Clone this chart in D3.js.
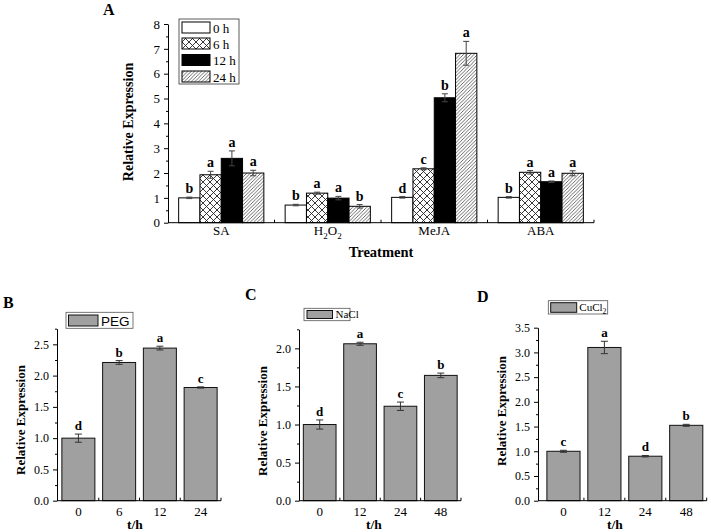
<!DOCTYPE html>
<html><head><meta charset="utf-8">
<script src="https://cdn.jsdelivr.net/npm/d3@7"></script>
<style>
body{margin:0;background:#fff}
svg{display:block}
</style>
</head><body><svg id="c" width="711" height="532" font-family="Liberation Serif, Times New Roman, serif"></svg>
<script>
// ---------- Panel A data ----------
const treatments = ["SA","H2O2","MeJA","ABA"];
const timesA = ["0 h","6 h","12 h","24 h"];
const valuesA = [[1.00,1.93,2.59,2.00],[0.71,1.19,0.99,0.66],[1.02,2.17,5.03,6.82],[1.02,2.03,1.65,1.99]];
const errorsA = [[0.03,0.14,0.30,0.11],[0.03,0.04,0.07,0.07],[0.03,0.04,0.16,0.48],[0.03,0.07,0.03,0.10]];
const lettersA = [["b","a","a","a"],["b","a","a","b"],["d","c","b","a"],["b","a","a","a"]];
const yTicksA = [0,1,2,3,4,5,6,7,8];
const yMinorA = [0.5,1.5,2.5,3.5,4.5,5.5,6.5,7.5];

// ---------- Panel B data (PEG) ----------
const timesB = ["0","6","12","24"];
const valuesB = [1.00,2.21,2.44,1.81];
const errorsB = [0.065,0.03,0.03,0.01];
const lettersB = ["d","b","a","c"];
const yTicksB = [0,0.5,1.0,1.5,2.0,2.5];
const yMinorB = [0.25,0.75,1.25,1.75,2.25,2.75];

// ---------- Panel C data (NaCl) ----------
const timesC = ["0","12","24","48"];
const valuesC = [1.00,2.06,1.24,1.645];
const errorsC = [0.06,0.02,0.055,0.03];
const lettersC = ["d","a","c","b"];
const yTicksC = [0,0.5,1.0,1.5,2.0];
const yMinorC = [0.25,0.75,1.25,1.75,2.25];

// ---------- Panel D data (CuCl2) ----------
const timesD = ["0","12","24","48"];
const valuesD = [1.00,3.10,0.90,1.525];
const errorsD = [0.02,0.125,0.015,0.02];
const lettersD = ["c","a","d","b"];
const yTicksD = [0,0.5,1.0,1.5,2.0,2.5,3.0,3.5];
const yMinorD = [0.25,0.75,1.25,1.75,2.25,2.75,3.25];

const SERIF = "Liberation Serif, Times New Roman, serif";
const svg = d3.select("#c");
const defs = svg.append("defs");

// patterns
const pCross = defs.append("pattern").attr("id","cross").attr("patternUnits","userSpaceOnUse")
  .attr("width",7).attr("height",7);
pCross.append("rect").attr("width",7).attr("height",7).attr("fill","#fff");
pCross.append("path").attr("d","M0,0L7,7M7,0L0,7").attr("stroke","#222").attr("stroke-width",0.9);
const pHatch = defs.append("pattern").attr("id","hatch").attr("patternUnits","userSpaceOnUse")
  .attr("width",3.5).attr("height",3.5);
pHatch.append("rect").attr("width",3.5).attr("height",3.5).attr("fill","#fff");
pHatch.append("path").attr("d","M-1,4.5L4.5,-1M-1,1L1,-1M2.5,4.5L4.5,2.5").attr("stroke","#444").attr("stroke-width",0.8);

const fillsA = ["#fff","url(#cross)","#000","url(#hatch)"];

function leftAxis(g, y, x0, majors, minors, fmt, fs){
  const ax = g.append("g").attr("transform",`translate(${x0},0)`)
    .call(d3.axisLeft(y).tickValues(majors).tickSize(4).tickSizeOuter(0).tickPadding(4).tickFormat(fmt));
  ax.attr("font-family",SERIF);
  ax.select(".domain").attr("stroke","#000");
  ax.selectAll(".tick line").attr("stroke","#000");
  ax.selectAll(".tick text").attr("font-family",SERIF).attr("font-size",fs).attr("fill","#000");
  const mn = g.append("g").attr("transform",`translate(${x0},0)`)
    .call(d3.axisLeft(y).tickValues(minors).tickSize(2).tickSizeOuter(0).tickFormat(""));
  mn.select(".domain").remove();
  mn.selectAll(".tick line").attr("stroke","#000");
}

function bottomLine(g, x, y0, xStart){
  const r = x.range();
  g.append("line").attr("x1",xStart).attr("x2",r[1]).attr("y1",y0).attr("y2",y0)
    .attr("stroke","#000").attr("stroke-width",1);
  const bounds = x.domain().map((d,i)=> r[0] + x.step()*(i+1));
  g.selectAll(null).data(bounds).join("line")
    .attr("x1",d=>d).attr("x2",d=>d).attr("y1",y0).attr("y2",y0-3)
    .attr("stroke","#000");
}

// ================= Panel A =================
{
  const g = svg.append("g");
  const y = d3.scaleLinear().domain([0,8]).range([222.7,24]);
  const x0 = d3.scaleBand().domain(treatments).range([168,594]).paddingInner(0.2).paddingOuter(0.1);
  const x1 = d3.scaleBand().domain(timesA).range([0,x0.bandwidth()]);
  const data = [];
  treatments.forEach((t,i)=>timesA.forEach((h,j)=>data.push({t,h,j,v:valuesA[i][j],e:errorsA[i][j],l:lettersA[i][j]})));
  g.selectAll("rect.bar").data(data).join("rect").attr("class","bar")
    .attr("x",d=>x0(d.t)+x1(d.h)).attr("width",x1.bandwidth())
    .attr("y",d=>y(d.v)).attr("height",d=>y(0)-y(d.v))
    .attr("fill",d=>fillsA[d.j]).attr("stroke","#000").attr("stroke-width",1);
  const cx = d=>x0(d.t)+x1(d.h)+x1.bandwidth()/2;
  g.selectAll("line.eb").data(data).join("line").attr("class","eb")
    .attr("x1",cx).attr("x2",cx).attr("y1",d=>y(d.v+d.e)).attr("y2",d=>y(d.v-d.e))
    .attr("stroke","#444").attr("stroke-width",1);
  g.selectAll("line.ec1").data(data).join("line").attr("class","ec1")
    .attr("x1",d=>cx(d)-3).attr("x2",d=>cx(d)+3).attr("y1",d=>y(d.v+d.e)).attr("y2",d=>y(d.v+d.e))
    .attr("stroke","#444");
  g.selectAll("line.ec2").data(data).join("line").attr("class","ec2")
    .attr("x1",d=>cx(d)-3).attr("x2",d=>cx(d)+3).attr("y1",d=>y(d.v-d.e)).attr("y2",d=>y(d.v-d.e))
    .attr("stroke","#444");
  g.selectAll("text.lt").data(data).join("text").attr("class","lt")
    .attr("x",cx).attr("y",d=>y(d.v+d.e)-4).attr("text-anchor","middle")
    .attr("font-weight","bold").attr("font-size",14).text(d=>d.l);
  leftAxis(g, y, 168, yTicksA, yMinorA, d3.format("d"), 13);
  bottomLine(g, x0, y(0), 168);
  // category labels
  const cl = g.selectAll("text.cat").data(treatments).join("text").attr("class","cat")
    .attr("x",d=>x0(d)+x0.bandwidth()/2).attr("y",235).attr("text-anchor","middle").attr("font-size",13);
  cl.each(function(d){
    const s = d3.select(this);
    if(d==="H2O2"){
      s.append("tspan").text("H");
      s.append("tspan").attr("dy",4).attr("font-size",9).text("2");
      s.append("tspan").attr("dy",-4).text("O");
      s.append("tspan").attr("dy",4).attr("font-size",9).text("2");
    } else s.text(d);
  });
  g.append("text").attr("x",381).attr("y",257).attr("text-anchor","middle")
    .attr("font-weight","bold").attr("font-size",14.5).text("Treatment");
  g.append("text").attr("transform","translate(133,122) rotate(-90)").attr("text-anchor","middle")
    .attr("font-weight","bold").attr("font-size",14).text("Relative Expression");
  g.append("text").attr("x",103).attr("y",15).attr("font-weight","bold").attr("font-size",16).text("A");
  // legend
  g.append("rect").attr("x",179).attr("y",19).attr("width",60).attr("height",65)
    .attr("fill","#fff").attr("stroke","#333").attr("stroke-width",0.8);
  const rowsY = [22,38,54.5,71];
  g.selectAll("rect.lg").data(timesA).join("rect").attr("class","lg")
    .attr("x",182).attr("y",(d,i)=>rowsY[i]).attr("width",28).attr("height",11)
    .attr("fill",(d,i)=>fillsA[i]).attr("stroke","#000");
  g.selectAll("text.lg").data(timesA).join("text").attr("class","lg")
    .attr("x",213).attr("y",(d,i)=>rowsY[i]+10.5).attr("font-size",13).text(d=>d);
}

// ================= Panels B-D =================
function simplePanel(o){
  const g = svg.append("g");
  const y = d3.scaleLinear().domain([0,o.ymax]).range([500.7,o.ytop]);
  const x = d3.scaleBand().domain(o.times).range(o.xr).paddingInner(0.19).paddingOuter(0.095);
  const data = o.times.map((t,i)=>({t,v:o.values[i],e:o.errors[i],l:o.letters[i]}));
  g.selectAll("rect.bar").data(data).join("rect").attr("class","bar")
    .attr("x",d=>x(d.t)).attr("width",x.bandwidth())
    .attr("y",d=>y(d.v)).attr("height",d=>y(0)-y(d.v))
    .attr("fill","#a0a0a0").attr("stroke","#111").attr("stroke-width",1);
  const cx = d=>x(d.t)+x.bandwidth()/2;
  g.selectAll("line.eb").data(data).join("line").attr("class","eb")
    .attr("x1",cx).attr("x2",cx).attr("y1",d=>y(d.v+d.e)).attr("y2",d=>y(d.v-d.e)).attr("stroke","#333");
  [1,-1].forEach(s=>{
    g.selectAll(null).data(data).join("line")
      .attr("x1",d=>cx(d)-3.5).attr("x2",d=>cx(d)+3.5)
      .attr("y1",d=>y(d.v+s*d.e)).attr("y2",d=>y(d.v+s*d.e)).attr("stroke","#333");
  });
  g.selectAll("text.lt").data(data).join("text").attr("class","lt")
    .attr("x",cx).attr("y",d=>y(d.v+d.e)-4).attr("text-anchor","middle")
    .attr("font-weight","bold").attr("font-size",13).text(d=>d.l);
  leftAxis(g, y, o.ax, o.majors, o.minors, d3.format(".1f"), 12);
  bottomLine(g, x, y(0), o.ax);
  g.selectAll("text.xt").data(o.times).join("text").attr("class","xt")
    .attr("x",d=>x(d)+x.bandwidth()/2).attr("y",516).attr("text-anchor","middle").attr("font-size",13).text(d=>d);
  g.append("text").attr("x",o.thx).attr("y",528.5).attr("text-anchor","middle")
    .attr("font-weight","bold").attr("font-size",13.5).text("t/h");
  g.append("text").attr("transform",`translate(${o.ytx},${o.tyc}) rotate(-90)`).attr("text-anchor","middle")
    .attr("font-weight","bold").attr("font-size",13).text("Relative Expression");
  g.append("text").attr("x",o.lab[0]).attr("y",o.lab[1]).attr("font-weight","bold").attr("font-size",16).text(o.label);
  // legend
  const L = o.leg;
  g.append("rect").attr("x",L.bx).attr("y",L.by).attr("width",L.bw).attr("height",L.bh)
    .attr("fill","#fff").attr("stroke","#555").attr("stroke-width",0.8);
  g.append("rect").attr("x",L.sx).attr("y",L.sy).attr("width",L.sw).attr("height",L.sh)
    .attr("fill","#a0a0a0").attr("stroke","#111");
  const t = g.append("text").attr("x",L.tx).attr("y",L.ty).attr("font-size",L.fs);
  if(L.sans) t.attr("font-family","Liberation Sans, Arial, sans-serif");
  t.append("tspan").text(L.text);
  if(L.sub) t.append("tspan").attr("dy",3).attr("font-size",L.fs*0.7).text(L.sub);
}

simplePanel({times:timesB,values:valuesB,errors:errorsB,letters:lettersB,majors:yTicksB,minors:yMinorB,
  ymax:2.75,ytop:328.7,xr:[58,221],ax:57,thx:135,ytx:24.5,tyc:420,label:"B",lab:[3,308],
  leg:{bx:66,by:312.3,bw:67,bh:16,sx:68.5,sy:315,sw:29.5,sh:11,tx:101,ty:325.5,fs:13.5,text:"PEG",sans:true}});
simplePanel({times:timesC,values:valuesC,errors:errorsC,letters:lettersC,majors:yTicksC,minors:yMinorC,
  ymax:2.25,ytop:329.3,xr:[299.5,461],ax:299,thx:374,ytx:267,tyc:421,label:"C",lab:[245,300],
  leg:{bx:304,by:308.3,bw:46,bh:12.4,sx:307,sy:310.5,sw:25.5,sh:8,tx:335.5,ty:318.3,fs:11,text:"NaCl"}});
simplePanel({times:timesD,values:valuesD,errors:errorsD,letters:lettersD,majors:yTicksD,minors:yMinorD,
  ymax:3.5,ytop:327.7,xr:[543,706.7],ax:538,thx:615,ytx:505.5,tyc:411,label:"D",lab:[477,302],
  leg:{bx:548.3,by:300.7,bw:59.4,bh:13.3,sx:550.7,sy:302.7,sw:26,sh:9.6,tx:579.3,ty:310.7,fs:11,text:"CuCl",sub:"2"}});
</script>
</body></html>
